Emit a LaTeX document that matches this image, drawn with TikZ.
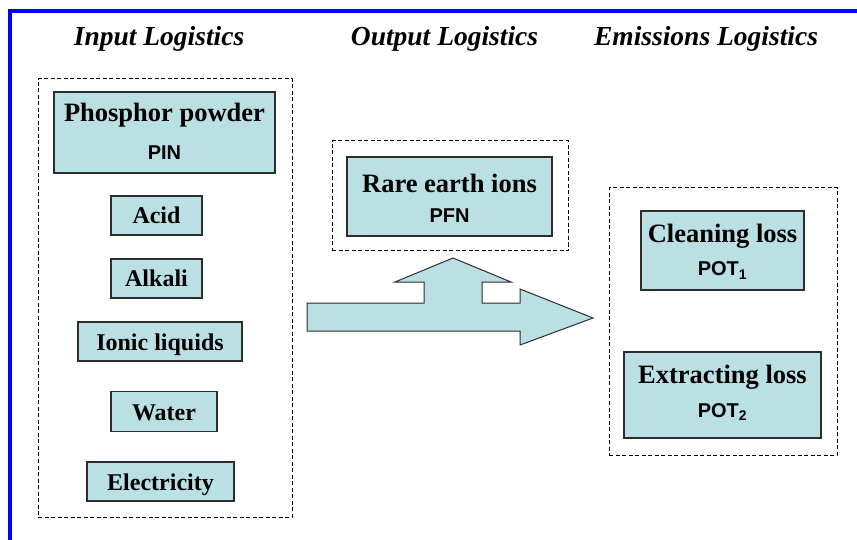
\documentclass[tikz,border=0pt]{standalone}
\usepackage{fontspec}
\setmainfont{Liberation Serif}
\setsansfont{Liberation Sans}
\definecolor{boxfill}{RGB}{187,224,227}
\definecolor{boxline}{RGB}{45,45,45}
\begin{document}
\begin{tikzpicture}[x=1pt,y=-1pt,
  title/.style={font=\fontsize{27.5}{30}\selectfont\bfseries\itshape, anchor=base, inner sep=0pt},
  itembox/.style={draw=boxline, line width=1.5pt, fill=boxfill, rectangle, inner sep=0pt},
  group/.style={draw=black, line width=1pt, dash pattern=on 4pt off 2.5pt, rectangle, inner sep=0pt},
  bigtxt/.style={font=\fontsize{26.5}{30}\selectfont\bfseries, anchor=base, inner sep=0pt},
  smalltxt/.style={font=\fontsize{24}{28}\selectfont\bfseries, text height=17pt, text depth=0pt},
  codetxt/.style={font=\fontsize{20}{24}\selectfont\sffamily\bfseries, anchor=base, inner sep=0pt},
  flow/.style={draw=boxline, line width=1pt, fill=boxfill, line join=miter}]

\useasboundingbox (0,0) rectangle (857,540);
\fill[white] (0,0) rectangle (857,540);
\draw[blue, line width=4pt] (10,540) -- (10,11) -- (857,11);

% titles
\node[title] (t1) at (159,45.5) {Input Logistics};
\node[title] (t2) at (444.5,45.5) {Output Logistics};
\node[title] (t3) at (706,45.5) {Emissions Logistics};

% groups
\node[group, minimum width=254pt, minimum height=438pt] (ingrp) at (165,298) {};
\node[group, minimum width=236pt, minimum height=110pt] (outgrp) at (450,196) {};
\node[group, minimum width=228pt, minimum height=267pt] (emgrp) at (723,321.5) {};

% input boxes
\node[itembox, minimum width=221pt, minimum height=81pt] (phos) at (164.5,132.5) {};
\node[bigtxt] (phosA) at (164.5,122) {Phosphor powder};
\node[codetxt] (phosB) at (164.5,160) {PIN};

\node[itembox, smalltxt, minimum width=91pt, minimum height=39pt] (acid) at (156.5,215.5) {Acid};
\node[itembox, smalltxt, minimum width=91pt, minimum height=39pt] (alkali) at (156.5,278.5) {Alkali};
\node[itembox, smalltxt, minimum width=164pt, minimum height=39pt] (ionic) at (160,341.5) {Ionic liquids};
\node[itembox, smalltxt, minimum width=106pt, minimum height=40pt] (water) at (164,411.5) {Water};
\node[itembox, smalltxt, minimum width=147pt, minimum height=39pt] (elec) at (160.5,481.5) {Electricity};

% output
\node[itembox, minimum width=205pt, minimum height=79pt] (rare) at (449.5,196.5) {};
\node[bigtxt] (rareA) at (449.5,193) {Rare earth ions};
\node[codetxt] (rareB) at (449.5,223) {PFN};

% emissions
\node[itembox, minimum width=163pt, minimum height=79pt] (clean) at (722.5,250.5) {};
\node[bigtxt] (cleanA) at (722.5,243) {Cleaning loss};
\node[codetxt] (cleanB) at (722.5,276) {POT\textsubscript{1}};

\node[itembox, minimum width=197pt, minimum height=86pt] (extr) at (722.5,395) {};
\node[bigtxt] (extrA) at (722.5,383) {Extracting loss};
\node[codetxt] (extrB) at (722.5,417) {POT\textsubscript{2}};

% flow arrow
\draw[flow] (307,303) -- (424,303) -- (424,282) -- (395,282) -- (453,258)
  -- (511,282) -- (482,282) -- (482,303) -- (520,303) -- (520,289)
  -- (593,318) -- (520,345) -- (520,331) -- (307,331) -- cycle;
\end{tikzpicture}
\end{document}
